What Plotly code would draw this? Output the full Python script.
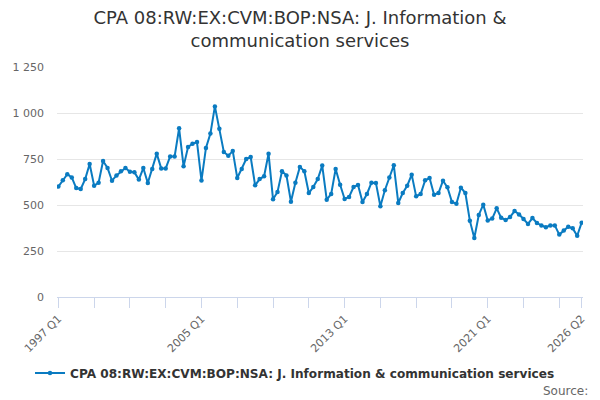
import plotly.graph_objects as go

# quarterly categories 1997 Q1 .. 2026 Q2
quarters = [f"{y} Q{q}" for y in range(1997, 2027) for q in range(1, 5)][:118]

values = [
    600, 634, 667, 650, 592, 587, 641, 723,   # 1997-1998
    605, 621, 739, 701, 632, 661, 683, 701,   # 1999-2000
    681, 678, 638, 701, 620, 696, 779, 699,   # 2001-2002
    699, 764, 764, 917, 710, 815, 833, 842,   # 2003-2004
    633, 810, 888, 1036, 915, 788, 768, 793,  # 2005-2006
    647, 696, 750, 761, 607, 641, 656, 779,   # 2007-2008
    531, 571, 683, 661, 518, 621, 707, 683,   # 2009-2010
    565, 598, 641, 714, 529, 560, 696, 610,   # 2011-2012
    533, 544, 598, 609, 516, 560, 621, 620,   # 2013-2014
    493, 580, 650, 716, 511, 565, 605, 665,   # 2015-2016
    547, 560, 634, 647, 556, 565, 632, 596,   # 2017-2018
    516, 507, 594, 565, 415, 321, 446, 502,   # 2019-2020
    416, 426, 482, 431, 418, 435, 467, 449,   # 2021-2022
    424, 397, 429, 402, 389, 379, 389, 389,   # 2023-2024
    339, 361, 382, 373, 333, 404,             # 2025-2026
]

series_name = "CPA 08:RW:EX:CVM:BOP:NSA: J. Information & communication services"
labelled = ["1997 Q1", "2005 Q1", "2013 Q1", "2021 Q1", "2026 Q2"]
y_ticks = [0, 250, 500, 750, 1000, 1250]

idx = list(range(len(quarters)))
tick_idx = list(range(0, len(quarters), 8)) + [len(quarters) - 1]
tick_txt = [quarters[i] if quarters[i] in labelled else "" for i in tick_idx]

fig = go.Figure()
fig.add_trace(go.Scatter(
    x=idx, y=values, name=series_name, mode="lines+markers",
    line=dict(color="#0a7bc1", width=2),
    marker=dict(color="#0a7bc1", size=4.5),
    text=quarters, hovertemplate="%{text}: %{y}<extra></extra>",
))

fig.update_layout(
    width=600, height=400,
    paper_bgcolor="white", plot_bgcolor="white",
    font=dict(family="DejaVu Sans", color="#666666"),
    separators=". ",
    margin=dict(l=57, r=17, t=67, b=103),
    title=dict(
        text="CPA 08:RW:EX:CVM:BOP:NSA: J. Information &<br>communication services",
        x=0.5, xanchor="center", y=0.94, yanchor="top",
        font=dict(size=18, color="#333333"),
    ),
    showlegend=True,
    legend=dict(
        orientation="h", x=0.4525, xanchor="center", y=-0.33, yanchor="middle",
        font=dict(size=12.1, color="#333333", weight="bold"),
    ),
    xaxis=dict(
        range=[-0.3, len(quarters) - 0.7],
        tickvals=tick_idx, ticktext=tick_txt, tickangle=-45,
        ticks="outside", ticklen=10, tickcolor="#ccd6eb",
        showline=True, linecolor="#ccd6eb", showgrid=False, zeroline=False,
        tickfont=dict(size=11, color="#666666"),
    ),
    yaxis=dict(
        range=[0, 1250], tickvals=y_ticks, tickformat=",d",
        showgrid=True, gridcolor="#e6e6e6", zeroline=False, showline=False,
        tickfont=dict(size=11, color="#666666"), ticklen=0,
        ticklabelstandoff=12,
    ),
    annotations=[dict(
        text="Source:", xref="paper", yref="paper", x=1.013, y=-0.41,
        xanchor="right", yanchor="middle", showarrow=False,
        font=dict(size=12, color="#666666"),
    )],
)

fig.write_html(
    "out.html",
    config={"displayModeBar": False},
    post_script="document.body.style.margin='0';document.body.style.overflow='hidden';window.scrollTo(0,0);",
)
